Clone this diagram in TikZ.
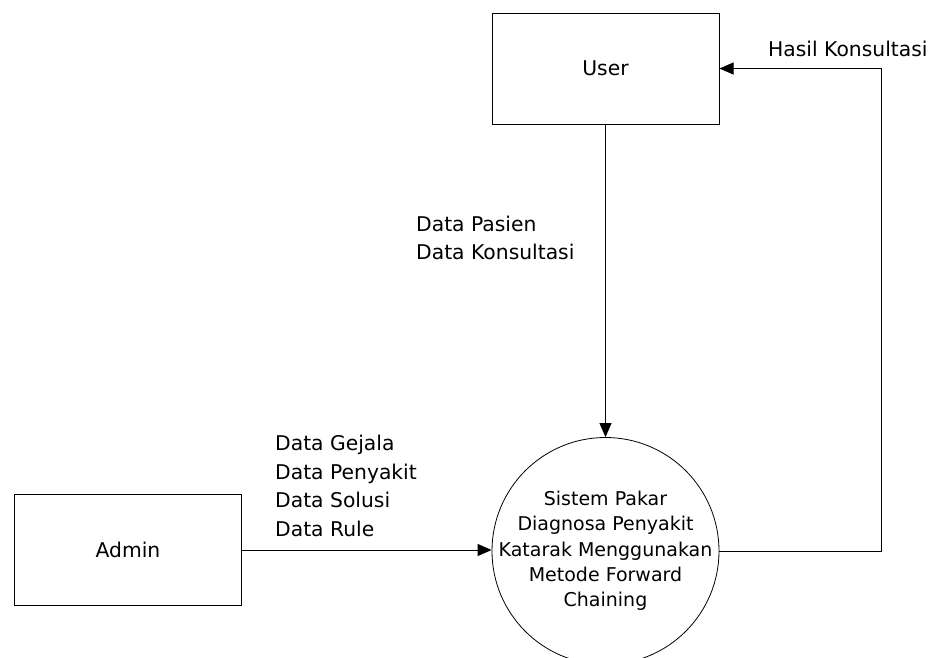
\documentclass[tikz,border=0pt]{standalone}
\usepackage{fontspec}
\setmainfont{DejaVu Sans}
\usetikzlibrary{arrows.meta}
\begin{document}
\begin{tikzpicture}[x=1pt,y=-1pt,
  every node/.style={font=\fontsize{20.3}{28.5}\selectfont, inner sep=0pt},
  entity/.style={draw, line width=1pt, minimum width=227pt, minimum height=111pt},
  process/.style={draw, circle, line width=0.8pt, minimum size=227pt,
    label={[align=center, font=\fontsize{19}{25.3}\selectfont]center:#1}},
  flow/.style={line width=1pt, -{Triangle[length=14pt,width=12pt]}},
  lbl/.style={anchor=west, align=left}]
  \useasboundingbox (0,0) rectangle (945,657);

  % external entities and the process
  \node[entity] (user) at (605.5,68.5) {User};
  \node[entity] (admin) at (128,550) {Admin};
  \node[process={Sistem Pakar\\Diagnosa Penyakit\\Katarak Menggunakan\\Metode Forward\\Chaining}]
    (proc) at (605.5,551) {};

  % data flows
  \draw[flow] (user) -- (proc);
  \draw[flow] (admin.east) -- (admin.east -| proc.west);
  \coordinate (turn) at (881,68.5);
  \draw[flow] (proc.east) -| (turn) -- (user.east);

  % flow labels
  \node[lbl] (lpasien) at (416,238) {Data Pasien\\Data Konsultasi};
  \node[lbl] (lgejala) at (275,486) {Data Gejala\\Data Penyakit\\Data Solusi\\Data Rule};
  \node[lbl] (lhasil) at (768,49) {Hasil Konsultasi};
\end{tikzpicture}
\end{document}
